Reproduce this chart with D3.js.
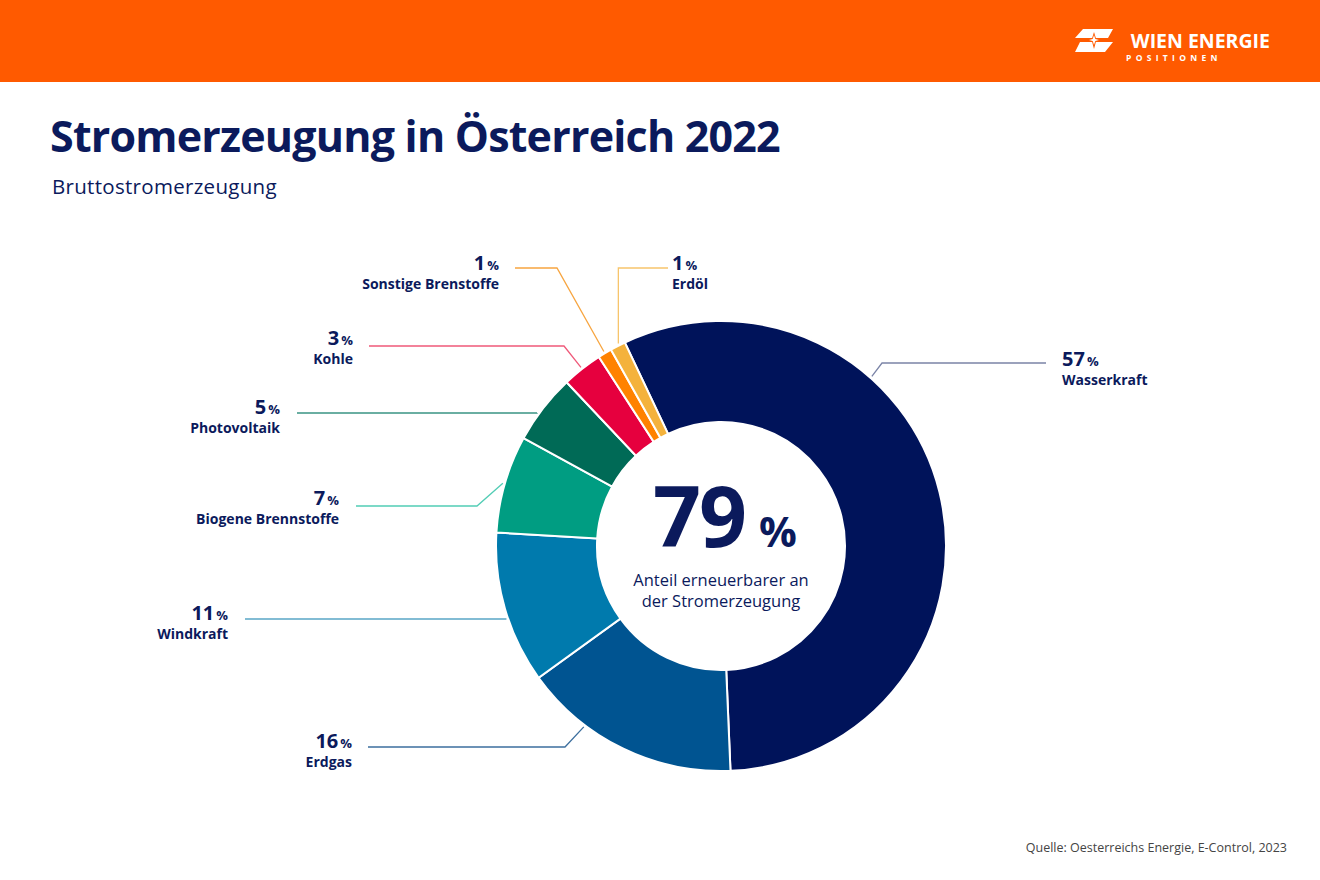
<!DOCTYPE html>
<meta charset="utf-8">
<style>
  body { margin: 0; background: #fff; }
  svg { display: block; font-family: "Open Sans", "Noto Sans", sans-serif; }
</style>
<body>
<script src="https://d3js.org/d3.v7.min.js"></script>
<script>
// slices, clockwise starting with Wasserkraft
const sources = ["Wasserkraft", "Erdgas", "Windkraft", "Biogene Brennstoffe", "Photovoltaik", "Kohle", "Sonstige Brenstoffe", "Erdöl"];
const shares = [56.3, 15.7, 10.9, 7.0, 5.0, 2.9, 1.0, 1.1];   // share of gross generation, %
const shareLabels = ["57", "16", "11", "7", "5", "3", "1", "1"];
const sliceColors = ["#00135a", "#005491", "#007aad", "#009d82", "#006a56", "#e6003e", "#ff8200", "#f4b23c"];
const lineColors = ["#7b84a7", "#3d6f9e", "#5aa6c6", "#52cdb5", "#3a9484", "#ef5a7a", "#f7a540", "#f7c56c"];
const renewableShare = "79";
const centreCaption = ["Anteil erneuerbarer an", "der Stromerzeugung"];

// label layout: side, text x, baseline of percentage, y of leader line, line end near text, elbow x, position inside slice
const labelLayout = [
  { side: "right", x: 1062, y: 366, ly: 363, lx: 1046, ex: 882, t: 0.33 },
  { side: "left",  x: 352,  y: 748, ly: 747, lx: 368,  ex: 565, t: 0.70 },
  { side: "left",  x: 228,  y: 620, ly: 619, lx: 245,  ex: null, t: 0.44 },
  { side: "left",  x: 339,  y: 505, ly: 506, lx: 356,  ex: 477, t: 0.50 },
  { side: "left",  x: 280,  y: 414, ly: 413, lx: 297,  ex: null, t: 0.40 },
  { side: "left",  x: 353,  y: 345, ly: 346, lx: 369,  ex: 564, t: 0.50 },
  { side: "left",  x: 499,  y: 270, ly: 268, lx: 515,  ex: 557, t: 0.50 },
  { side: "right", x: 672,  y: 270, ly: 268, lx: 668,  ex: null, t: 0.60 }
];

const W = 1320, H = 880;
const navy = "#0b1a5c";
const cx = 721, cy = 546, rOuter = 225, rInner = 124;

const svg = d3.select("body").append("svg")
    .attr("width", W)
    .attr("height", H);

// header band
svg.append("rect").attr("x", 0).attr("y", 0).attr("width", W).attr("height", 82).attr("fill", "#ff5a00");

// logo
const logo = svg.append("g").attr("transform", "translate(1075,29)");
logo.append("path")
    .attr("d", "M8,0 L38,0 L33,9 L0,9 Z M5,13 L38,13 L30,23 L0,23 Z")
    .attr("fill", "#fff");
logo.append("path")
    .attr("d", "M19,3 L21,9.5 L28,11 L21,12.5 L19,20 L17,12.5 L10,11 L17,9.5 Z")
    .attr("fill", "#ff5a00");
logo.append("path")
    .attr("d", "M19,6 L20.3,10 L24,11 L20.3,12 L19,16 L17.7,12 L14,11 L17.7,10 Z")
    .attr("fill", "#fff");
svg.append("text")
    .attr("x", 1270).attr("y", 48)
    .attr("text-anchor", "end")
    .attr("fill", "#fff")
    .attr("font-weight", 700)
    .attr("font-size", 19.5)
    .text("WIEN ENERGIE");
svg.append("text")
    .attr("x", 1126).attr("y", 61)
    .attr("fill", "#fff")
    .attr("font-weight", 700)
    .attr("font-size", 8.5)
    .attr("letter-spacing", 4.3)
    .text("POSITIONEN");

// title + subtitle
svg.append("text")
    .attr("x", 50).attr("y", 152)
    .attr("fill", navy)
    .attr("font-weight", 700)
    .attr("font-size", 43)
    .attr("letter-spacing", -0.8)
    .text("Stromerzeugung in Österreich 2022");
svg.append("text")
    .attr("x", 52).attr("y", 194)
    .attr("fill", navy)
    .attr("font-size", 20.5)
    .attr("letter-spacing", 0.3)
    .text("Bruttostromerzeugung");

// donut
const startAngle = -25.3 * Math.PI / 180;
const pie = d3.pie().sort(null).startAngle(startAngle).endAngle(startAngle + 2 * Math.PI);
const arcs = pie(shares);
const arc = d3.arc().innerRadius(rInner).outerRadius(rOuter);

const g = svg.append("g").attr("transform", `translate(${cx},${cy})`);
g.selectAll("path.slice")
  .data(arcs)
  .join("path")
    .attr("class", "slice")
    .attr("d", arc)
    .attr("fill", (d, i) => sliceColors[i])
    .attr("stroke", "#fff")
    .attr("stroke-width", 2);

// leader lines + labels
const rAnchor = 227;
arcs.forEach(function(d, i) {
  const L = labelLayout[i];
  const a = d.startAngle + (d.endAngle - d.startAngle) * L.t;
  const ax = cx + rAnchor * Math.sin(a);
  const ay = cy - rAnchor * Math.cos(a);
  const ex = L.ex === null ? ax : L.ex;
  svg.append("path")
      .attr("d", d3.line()([[L.lx, L.ly], [ex, L.ly], [ax, ay]]))
      .attr("fill", "none")
      .attr("stroke", lineColors[i])
      .attr("stroke-width", 1.3);

  const anchor = L.side === "left" ? "end" : "start";
  const t = svg.append("text")
      .attr("x", L.x).attr("y", L.y)
      .attr("text-anchor", anchor)
      .attr("fill", navy)
      .attr("font-weight", 700);
  t.append("tspan").attr("font-size", 20).text(shareLabels[i]);
  t.append("tspan").attr("font-size", 13).attr("dx", 2).text("%");
  svg.append("text")
      .attr("x", L.x).attr("y", L.y + 19)
      .attr("text-anchor", anchor)
      .attr("fill", navy)
      .attr("font-weight", 700)
      .attr("font-size", 14)
      .text(sources[i]);
});

// centre text
const c = svg.append("text")
    .attr("x", 725).attr("y", 547)
    .attr("text-anchor", "middle")
    .attr("fill", navy)
    .attr("font-weight", 700);
c.append("tspan").attr("font-size", 84).attr("letter-spacing", -2).text(renewableShare);
c.append("tspan").attr("font-size", 42).attr("dx", 14).text("%");

svg.append("text")
    .attr("y", 586)
    .attr("text-anchor", "middle")
    .attr("fill", navy)
    .attr("font-size", 16.5)
  .selectAll("tspan")
  .data(centreCaption)
  .join("tspan")
    .attr("x", cx)
    .attr("dy", (d, i) => i === 0 ? 0 : 21)
    .text(d => d);

// source
svg.append("text")
    .attr("x", 1287).attr("y", 852)
    .attr("text-anchor", "end")
    .attr("fill", "#444")
    .attr("font-size", 12.5)
    .text("Quelle: Oesterreichs Energie, E-Control, 2023");
</script>
</body>
